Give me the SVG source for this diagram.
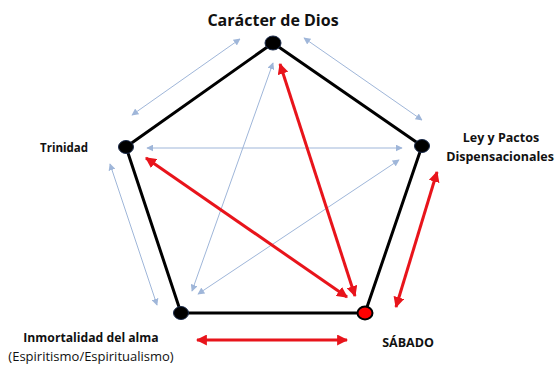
<svg xmlns="http://www.w3.org/2000/svg" width="555" height="365" viewBox="0 0 555 365">
<defs>
<marker id="bh" viewBox="0 0 10 10" refX="9" refY="5" markerWidth="7" markerHeight="7" orient="auto-start-reverse" markerUnits="userSpaceOnUse"><path d="M0,0 L10,5 L0,10 z" fill="#9fb6d9"/></marker>
<marker id="rh" viewBox="0 0 10 10" refX="9" refY="5" markerWidth="11" markerHeight="11" orient="auto-start-reverse" markerUnits="userSpaceOnUse"><path d="M0,0 L10,5 L0,10 z" fill="#e8141b"/></marker>
<style>
.edge{stroke:#000;stroke-width:3;fill:none;stroke-linejoin:round}
.blue{stroke:#9fb6d9;stroke-width:1;fill:none;marker-start:url(#bh);marker-end:url(#bh)}
.red{stroke:#e8141b;stroke-width:3;fill:none;marker-start:url(#rh);marker-end:url(#rh)}
.node{fill:#000;stroke:#1a2a4a;stroke-width:1}
.lbl{font-family:"Open Sans","Liberation Sans",sans-serif;font-weight:bold;fill:#111}
</style>
</defs>
<rect width="555" height="365" fill="#fff"/>
<g id="pentagon">
<path class="edge" d="M273,43 L422,146 L365,313 L181,313 L126,147 Z"/>
</g>
<g id="connectors">
<line class="blue" x1="132" y1="115" x2="240" y2="39"/>
<line class="blue" x1="304" y1="38" x2="422" y2="120"/>
<line class="blue" x1="110" y1="164" x2="157" y2="305"/>
<line class="blue" x1="147" y1="148" x2="402" y2="148"/>
<line class="blue" x1="273" y1="63" x2="192" y2="291"/>
<line class="blue" x1="399" y1="160" x2="198" y2="294"/>
<line class="red" x1="280" y1="64" x2="355" y2="296"/>
<line class="red" x1="146" y1="158" x2="347" y2="297"/>
<line class="red" x1="437" y1="172" x2="396" y2="307"/>
<line class="red" x1="197" y1="340" x2="347" y2="340"/>
</g>
<g id="caracter">
<ellipse class="node" cx="273" cy="43" rx="8" ry="7"/>
<text class="lbl" x="273" y="26" font-size="16" text-anchor="middle">Carácter de Dios</text>
</g>
<g id="trinidad">
<ellipse class="node" cx="126" cy="147" rx="7.5" ry="6.5"/>
<text class="lbl" x="64" y="152" font-size="11.5" text-anchor="middle">Trinidad</text>
</g>
<g id="ley">
<ellipse class="node" cx="422" cy="146" rx="7.5" ry="6.5"/>
<text class="lbl" x="501" y="142" font-size="12.5" text-anchor="middle">Ley y Pactos</text>
<text class="lbl" x="500" y="161" font-size="12.5" text-anchor="middle">Dispensacionales</text>
</g>
<g id="inmortalidad">
<ellipse class="node" cx="181" cy="313" rx="7.5" ry="6.5"/>
<text class="lbl" x="91" y="342" font-size="12.2" text-anchor="middle">Inmortalidad del alma</text>
<text x="91" y="361" font-size="13" text-anchor="middle" font-family="Open Sans, Liberation Sans, sans-serif" fill="#111">(Espiritismo/Espiritualismo)</text>
</g>
<g id="sabado">
<ellipse cx="365" cy="313" rx="7.5" ry="6.5" fill="#f00" stroke="#000" stroke-width="2"/>
<text class="lbl" x="408" y="347" font-size="12.5" text-anchor="middle">SÁBADO</text>
</g>
</svg>
